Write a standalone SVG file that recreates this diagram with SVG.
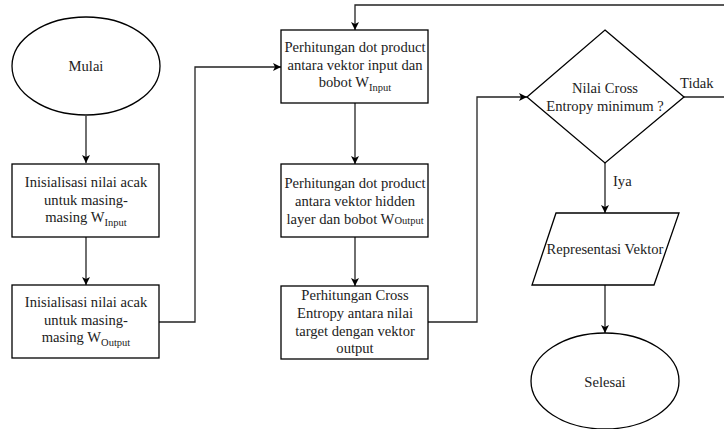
<svg xmlns="http://www.w3.org/2000/svg" width="724" height="429" viewBox="0 0 724 429">
<style>
.s{fill:#fff;stroke:#000;stroke-width:1.3}
.c{fill:none;stroke:#222;stroke-width:1.3}
text{font-family:'Liberation Serif','DejaVu Serif',serif;font-size:14.6px;fill:#222}
.m{text-anchor:middle}
.sub{font-size:10.5px}
</style>
<defs>
<marker id="arr" viewBox="0 0 10 10" refX="10" refY="5" markerWidth="8" markerHeight="8" markerUnits="userSpaceOnUse" orient="auto">
<path d="M0,0 L10,5 L0,10 L2.5,5 Z" fill="#000"/>
</marker>
</defs>
<rect width="724" height="429" fill="#fff"/>
<g id="connectors">
<path class="c" d="M86,116 V163" marker-end="url(#arr)"/>
<path class="c" d="M86,237 V285" marker-end="url(#arr)"/>
<path class="c" d="M159,322 H195 V67 H281" marker-end="url(#arr)"/>
<path class="c" d="M355,103 V164" marker-end="url(#arr)"/>
<path class="c" d="M355,237 V286" marker-end="url(#arr)"/>
<path class="c" d="M428,322 H477 V97 H527" marker-end="url(#arr)"/>
<path class="c" d="M684,97 H724"/>
<path class="c" d="M724,5 H355 V30" marker-end="url(#arr)"/>
<path class="c" d="M605,163 V213" marker-end="url(#arr)"/>
<path class="c" d="M605,285 V333" marker-end="url(#arr)"/>
<text x="680" y="88" font-family="Liberation Serif, serif">Tidak</text>
<text x="613" y="186" font-family="Liberation Serif, serif">Iya</text>
</g>
<g id="mulai">
<ellipse class="s" cx="86" cy="66" rx="74" ry="49"/>
<text class="m" x="86" y="71">Mulai</text>
</g>
<g id="init-input">
<rect class="s" x="12" y="164" width="147" height="73"/>
<text class="m" x="86" y="187">Inisialisasi nilai acak</text>
<text class="m" x="86" y="205">untuk masing-</text>
<text class="m" x="86" y="222">masing W<tspan class="sub" dy="4">Input</tspan></text>
</g>
<g id="init-output">
<rect class="s" x="12" y="285" width="147" height="73"/>
<text class="m" x="86" y="307">Inisialisasi nilai acak</text>
<text class="m" x="86" y="325">untuk masing-</text>
<text class="m" x="86" y="342">masing W<tspan class="sub" dy="4">Output</tspan></text>
</g>
<g id="dot-input">
<rect class="s" x="281" y="30" width="147" height="73"/>
<text class="m" x="355" y="52">Perhitungan dot product</text>
<text class="m" x="355" y="70">antara vektor input dan</text>
<text class="m" x="355" y="87">bobot W<tspan class="sub" dy="4">Input</tspan></text>
</g>
<g id="dot-output">
<rect class="s" x="281" y="164" width="147" height="73"/>
<text class="m" x="355" y="188">Perhitungan dot product</text>
<text class="m" x="355" y="206">antara vektor hidden</text>
<text class="m" x="355" y="224">layer dan bobot W<tspan class="sub">Output</tspan></text>
</g>
<g id="cross-entropy">
<rect class="s" x="281" y="286" width="147" height="73"/>
<text class="m" x="355" y="300">Perhitungan Cross</text>
<text class="m" x="355" y="318">Entropy antara nilai</text>
<text class="m" x="355" y="336">target dengan vektor</text>
<text class="m" x="355" y="353">output</text>
</g>
<g id="decision">
<polygon class="s" points="605,30 684,97 605,163 527,97"/>
<text class="m" x="605" y="93">Nilai Cross</text>
<text class="m" x="605" y="111">Entropy minimum ?</text>
</g>
<g id="representasi">
<polygon class="s" points="556,213 679,213 654,285 532,285"/>
<text class="m" x="605" y="254">Representasi Vektor</text>
</g>
<g id="selesai">
<ellipse class="s" cx="605" cy="381" rx="74" ry="48"/>
<text class="m" x="605" y="387">Selesai</text>
</g>
</svg>
